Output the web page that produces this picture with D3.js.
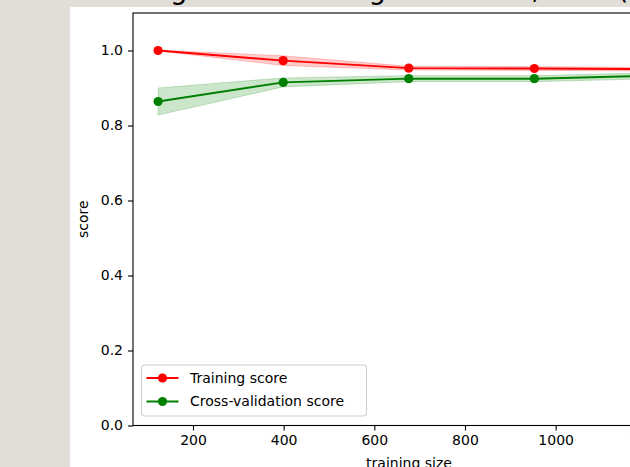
<!DOCTYPE html>
<html>
<head>
<meta charset="utf-8">
<script src="https://cdn.jsdelivr.net/npm/d3@7"></script>
<style>
  body { margin: 0; background: #e1ded8; overflow: hidden; }
  #chart { width: 630px; height: 467px; }
  text { font-family: "DejaVu Sans", sans-serif; }
</style>
</head>
<body>
<div id="chart"></div>
<script>
var width = 630;
var height = 467;

// data
var trainSizes = [123, 399, 676, 953, 1230];
var trainMean = [1.0, 0.973, 0.953, 0.952, 0.950];
var trainStd = [0.001, 0.013, 0.005, 0.005, 0.005];
var testMean = [0.864, 0.915, 0.925, 0.925, 0.933];
var testStd = [0.036, 0.012, 0.008, 0.008, 0.008];
var yTicks = [0.0, 0.2, 0.4, 0.6, 0.8, 1.0];
var xTicks = [200, 400, 600, 800, 1000, 1200];
var legendLabels = ["Training score", "Cross-validation score"];
var chartTitle = "Learning Curves on digits dataset, SVM (γ=0.001)";

var axes = { left: 133, top: 13, right: 685, bottom: 425.5 };

function createSVG(width, height) {
  return d3.select("#chart")
    .append("svg")
    .attr("width", width)
    .attr("height", height);
}

function getScales() {
  var pad = (d3.max(trainSizes) - d3.min(trainSizes)) * 0.05;
  var x = d3.scaleLinear()
    .domain([d3.min(trainSizes) - pad, d3.max(trainSizes) + pad])
    .range([axes.left, axes.right]);
  var y = d3.scaleLinear()
    .domain([0, 1.1])
    .range([axes.bottom, axes.top]);
  return { x: x, y: y };
}

function drawSeries(svg, s, mean, std, color) {
  var rows = trainSizes.map(function(d, i) {
    return { x: d, m: mean[i], s: std[i] };
  });

  var area = d3.area()
    .x(function(d) { return s.x(d.x); })
    .y0(function(d) { return s.y(d.m - d.s); })
    .y1(function(d) { return s.y(d.m + d.s); });

  svg.append("path")
    .datum(rows)
    .attr("d", area)
    .style("fill", color)
    .style("fill-opacity", 0.2)
    .style("stroke", color)
    .style("stroke-opacity", 0.2);

  var line = d3.line()
    .x(function(d) { return s.x(d.x); })
    .y(function(d) { return s.y(d.m); });

  svg.append("path")
    .datum(rows)
    .attr("d", line)
    .style("fill", "none")
    .style("stroke", color)
    .style("stroke-width", 2);

  svg.append("g")
    .selectAll("circle")
    .data(rows)
    .enter()
    .append("circle")
    .attr("cx", function(d) { return s.x(d.x); })
    .attr("cy", function(d) { return s.y(d.m); })
    .attr("r", 4.6)
    .style("fill", color);
}

function drawAxes(svg, s) {
  var xAxis = d3.axisBottom(s.x)
    .tickValues(xTicks)
    .tickSize(5)
    .tickPadding(5)
    .tickFormat(d3.format("d"));
  var yAxis = d3.axisLeft(s.y)
    .tickValues(yTicks)
    .tickSize(5)
    .tickPadding(5)
    .tickFormat(d3.format(".1f"));

  var gx = svg.append("g")
    .attr("transform", "translate(0," + axes.bottom + ")")
    .call(xAxis);
  var gy = svg.append("g")
    .attr("transform", "translate(" + axes.left + ",0)")
    .call(yAxis);

  [gx, gy].forEach(function(g) {
    g.select(".domain").remove();
    g.selectAll("line").style("stroke", "#000").style("stroke-width", 1.1);
    g.selectAll("text")
      .style("font-size", "14px")
      .style("fill", "#000")
      .style("font-family", "DejaVu Sans, sans-serif");
  });

  // frame
  svg.append("rect")
    .attr("x", axes.left)
    .attr("y", axes.top)
    .attr("width", axes.right - axes.left)
    .attr("height", axes.bottom - axes.top)
    .style("fill", "none")
    .style("stroke", "#000")
    .style("stroke-width", 1.1);

  svg.append("text")
    .attr("x", (axes.left + axes.right) / 2)
    .attr("y", 468)
    .attr("text-anchor", "middle")
    .style("font-size", "14px")
    .text("training size");

  svg.append("text")
    .attr("transform", "translate(88," + ((axes.top + axes.bottom) / 2) + ") rotate(-90)")
    .attr("text-anchor", "middle")
    .style("font-size", "14px")
    .text("score");
}

function createLegend(svg) {
  var colors = ["red", "green"];
  var legend = svg.append("g")
    .attr("transform", "translate(141.5,365)");

  legend.append("rect")
    .attr("width", 225)
    .attr("height", 51)
    .attr("rx", 3)
    .style("fill", "white")
    .style("fill-opacity", 0.8)
    .style("stroke", "#ccc");

  var rows = legend.selectAll(".entry")
    .data(legendLabels)
    .enter()
    .append("g")
    .attr("transform", function(d, i) { return "translate(0," + (13 + i * 23.5) + ")"; });

  rows.append("line")
    .attr("x1", 5)
    .attr("x2", 37)
    .style("stroke", function(d, i) { return colors[i]; })
    .style("stroke-width", 2);

  rows.append("circle")
    .attr("cx", 21)
    .attr("r", 4.6)
    .style("fill", function(d, i) { return colors[i]; });

  rows.append("text")
    .attr("x", 48.5)
    .attr("dy", "0.35em")
    .style("font-size", "14px")
    .text(function(d) { return d; });
}

function main() {
  var svg = createSVG(width, height);
  var s = getScales();

  // white figure area
  svg.append("rect")
    .attr("x", 70)
    .attr("y", 7)
    .attr("width", width - 70)
    .attr("height", height - 7)
    .style("fill", "white");

  // title mostly cut off at the top, only descenders show
  svg.append("text")
    .attr("x", 68)
    .attr("y", -1.5)
    .style("font-size", "27.5px")
    .text(chartTitle);

  drawSeries(svg, s, trainMean, trainStd, "red");
  drawSeries(svg, s, testMean, testStd, "green");
  drawAxes(svg, s);
  createLegend(svg);
}

window.onload = function() {
  main();
};
</script>
</body>
</html>
